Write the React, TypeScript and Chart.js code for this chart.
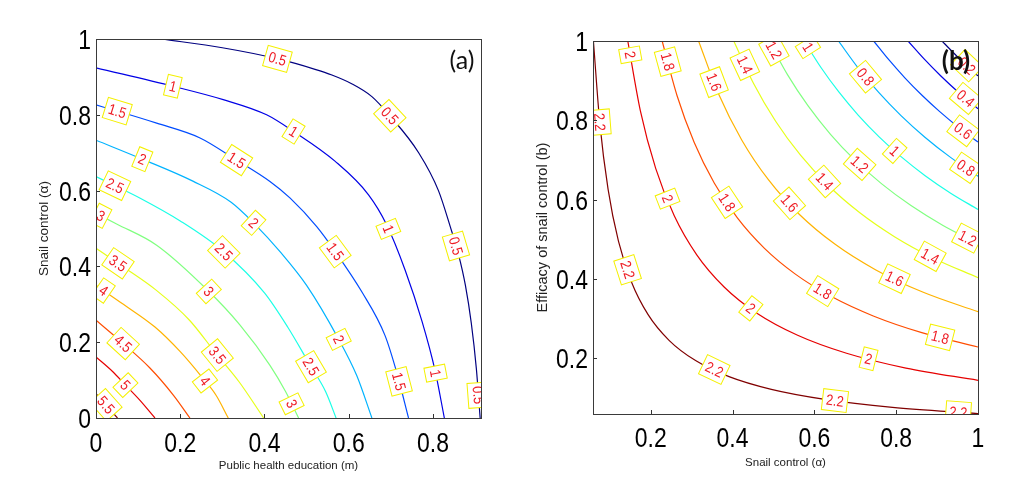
import React, { useEffect, useRef } from "react";
import { Chart, registerables } from "chart.js";

Chart.register(...registerables);

// ---------------- Panel (a): Public health education (m) vs Snail control (alpha) ----------------
const levelsA = [0.5, 1, 1.5, 2, 2.5, 3, 3.5, 4, 4.5, 5, 5.5];

const a05X = [0.155, 0.3, 0.43, 0.52, 0.56, 0.607, 0.655, 0.698, 0.766, 0.813, 0.841, 0.861, 0.877, 0.891, 0.903, 0.912];
const a05Y = [1.0, 0.977, 0.948, 0.92, 0.905, 0.882, 0.848, 0.797, 0.7, 0.6, 0.505, 0.43, 0.35, 0.25, 0.13, 0];
const a10X = [0, 0.184, 0.302, 0.405, 0.469, 0.568, 0.647, 0.69, 0.734, 0.774, 0.805, 0.827];
const a10Y = [0.924, 0.875, 0.84, 0.8, 0.756, 0.677, 0.589, 0.51, 0.39, 0.255, 0.125, 0];
const a15X = [0, 0.05, 0.144, 0.247, 0.33, 0.413, 0.461, 0.524, 0.568, 0.631, 0.686, 0.714, 0.742];
const a15Y = [0.826, 0.81, 0.778, 0.739, 0.683, 0.624, 0.58, 0.505, 0.439, 0.333, 0.218, 0.12, 0];
const a20X = [0, 0.11, 0.23, 0.32, 0.374, 0.44, 0.5, 0.575, 0.619, 0.655];
const a20Y = [0.733, 0.683, 0.625, 0.57, 0.515, 0.435, 0.35, 0.21, 0.112, 0];
const a25X = [0, 0.045, 0.105, 0.2, 0.302, 0.4, 0.455, 0.508, 0.545, 0.57];
const a25Y = [0.637, 0.613, 0.58, 0.52, 0.44, 0.33, 0.24, 0.14, 0.07, 0];
const a30X = [0, 0.049, 0.144, 0.267, 0.342, 0.413, 0.45, 0.481];
const a30Y = [0.54, 0.512, 0.456, 0.335, 0.245, 0.139, 0.07, 0];
const a35X = [0, 0.063, 0.142, 0.222, 0.285, 0.34, 0.398];
const a35Y = [0.448, 0.4, 0.338, 0.258, 0.17, 0.095, 0];
const a40X = [0, 0.065, 0.14, 0.2, 0.25, 0.285, 0.314];
const a40Y = [0.35, 0.3, 0.24, 0.175, 0.11, 0.06, 0];
const a45X = [0, 0.061, 0.128, 0.184, 0.223];
const a45Y = [0.258, 0.2, 0.132, 0.06, 0];
const a50X = [0, 0.04, 0.069, 0.105, 0.14];
const a50Y = [0.161, 0.122, 0.088, 0.046, 0];
const a55X = [0, 0.025, 0.051];
const a55Y = [0.064, 0.033, 0];

const labelLevelA = [0.5, 0.5, 0.5, 0.5, 1, 1, 1, 1, 1.5, 1.5, 1.5, 1.5, 2, 2, 2, 2.5, 2.5, 2.5, 3, 3, 3, 3.5, 3.5, 4, 4, 4.5, 5, 5.5];
const labelXA = [0.43, 0.698, 0.858, 0.905, 0.183, 0.469, 0.69, 0.805, 0.05, 0.334, 0.568, 0.714, 0.11, 0.374, 0.572, 0.045, 0.305, 0.508, 0.012, 0.263, 0.469, 0.049, 0.287, 0.017, 0.25, 0.065, 0.069, 0.024];
const labelYA = [0.945, 0.798, 0.455, 0.06, 0.878, 0.756, 0.497, 0.118, 0.808, 0.681, 0.439, 0.095, 0.683, 0.515, 0.205, 0.613, 0.44, 0.134, 0.535, 0.329, 0.04, 0.403, 0.165, 0.335, 0.09, 0.197, 0.086, 0.035];

// ---------------- Panel (b): Snail control (alpha) vs Efficacy of snail control (b) ----------------
const levelsB = [0.2, 0.4, 0.6, 0.8, 1, 1.2, 1.4, 1.6, 1.8, 2, 2.2];

const b02X = [0.912, 0.9333, 0.955, 0.9772, 1];
const b02Y = [1, 0.9772, 0.955, 0.9333, 0.912];
const b04X = [0.829, 0.8688, 0.9105, 0.9542, 1];
const b04Y = [1, 0.9542, 0.9105, 0.8688, 0.829];
const b06X = [0.745, 0.7825, 0.8218, 0.8631, 0.9065, 0.9521, 1];
const b06Y = [1, 0.9521, 0.9065, 0.8631, 0.8218, 0.7825, 0.745];
const b08X = [0.659, 0.7064, 0.7573, 0.8118, 0.8702, 0.9329, 1];
const b08Y = [1, 0.9329, 0.8702, 0.8118, 0.7573, 0.7064, 0.659];
const b10X = [0.575, 0.6162, 0.6603, 0.7076, 0.7583, 0.8126, 0.8708, 0.9332, 1];
const b10Y = [1, 0.9332, 0.8708, 0.8126, 0.7583, 0.7076, 0.6603, 0.6162, 0.575];
const b12X = [0.489, 0.5347, 0.5848, 0.6395, 0.6993, 0.7647, 0.8362, 0.9145, 1];
const b12Y = [1, 0.9145, 0.8362, 0.7647, 0.6993, 0.6395, 0.5848, 0.5347, 0.489];
const b14X = [0.403, 0.4515, 0.5058, 0.5667, 0.6348, 0.7112, 0.7968, 0.8926, 1];
const b14Y = [1, 0.8926, 0.7968, 0.7112, 0.6348, 0.5667, 0.5058, 0.4515, 0.403];
const b16X = [0.317, 0.366, 0.4225, 0.4877, 0.563, 0.65, 0.7504, 0.8662, 1];
const b16Y = [1, 0.8662, 0.7504, 0.65, 0.563, 0.4877, 0.4225, 0.366, 0.317];
const b18X = [0.228, 0.2643, 0.3064, 0.3553, 0.4119, 0.4775, 0.5536, 0.6418, 0.744, 0.8626, 1];
const b18Y = [1, 0.8626, 0.744, 0.6418, 0.5536, 0.4775, 0.4119, 0.3553, 0.3064, 0.2643, 0.228];
const b20X = [0.144, 0.1748, 0.2122, 0.2576, 0.3126, 0.3795, 0.4606, 0.5591, 0.6787, 0.8238, 1];
const b20Y = [1, 0.8238, 0.6787, 0.5591, 0.4606, 0.3795, 0.3126, 0.2576, 0.2122, 0.1748, 0.144];
const b22X = [0.06, 0.0758, 0.0959, 0.1212, 0.1533, 0.1937, 0.2449, 0.3097, 0.3915, 0.4949, 0.6257, 0.791, 1];
const b22Y = [1, 0.791, 0.6257, 0.4949, 0.3915, 0.3097, 0.2449, 0.1937, 0.1533, 0.1212, 0.0959, 0.0758, 0.06];

const labelLevelB = [2, 1.8, 2.2, 1.6, 1.4, 1.2, 1, 0.8, 0.2, 0.4, 0.6, 0.8, 1, 1.2, 1.4, 1.6, 1.8, 2, 1.2, 2.2, 2, 1.8, 1.6, 1.4, 1.8, 2, 2.2, 2.2, 2.2];
const labelXB = [0.144, 0.238, 0.071, 0.344, 0.426, 0.499, 0.577, 0.724, 0.973, 0.969, 0.961, 0.965, 0.793, 0.704, 0.622, 0.532, 0.385, 0.238, 0.973, 0.132, 0.442, 0.618, 0.793, 0.879, 0.907, 0.732, 0.353, 0.65, 0.952];
const labelYB = [0.964, 0.947, 0.795, 0.892, 0.938, 0.976, 0.98, 0.909, 0.938, 0.854, 0.77, 0.672, 0.719, 0.681, 0.643, 0.584, 0.592, 0.601, 0.5, 0.419, 0.322, 0.365, 0.394, 0.449, 0.251, 0.196, 0.166, 0.09, 0.065];

// jet colour map, one colour per contour level (low -> high)
const jetColors = ["#000080", "#0000e6", "#004cff", "#00b3ff", "#1affe6", "#80ff80", "#e6ff1a", "#ffb300", "#ff4d00", "#e60000", "#800000"];

const SANS = '"Liberation Sans", Arial, sans-serif';
const NARROW_SCALE = 0.82;

type PanelSpec = {
  levels: number[];
  xs: number[][];
  ys: number[][];
  labelLevels: number[];
  labelXs: number[];
  labelYs: number[];
  xMin: number;
  xMax: number;
  yMin: number;
  yMax: number;
  xTitle: string;
  yTitle: string;
  yTitleSize: number;
  yTitlePad: number;
  xTitlePad: number;
  tag: string;
  tagFont: string;
  tagX: number;
  tagY: number;
  pad: { top: number; right: number };
  yWidth: number;
  xHeight: number;
  xTickBaseline: number;
};

function fmt(v: number) {
  return String(Number(v.toFixed(3)));
}

function narrowText(ctx: any, text: string, x: number, y: number, align: string) {
  ctx.save();
  ctx.translate(x, y);
  ctx.scale(NARROW_SCALE, 1);
  ctx.textAlign = align;
  ctx.fillText(text, 0, 0);
  ctx.restore();
}

function decorPlugin(spec: PanelSpec) {
  return {
    id: "contourDecor",
    afterDatasetsDraw(chart: any) {
      const { ctx, chartArea: ca, scales } = chart;
      const xs = scales.x;
      const ys = scales.y;
      // contour labels
      ctx.save();
      ctx.beginPath();
      ctx.rect(ca.left, ca.top, ca.right - ca.left, ca.bottom - ca.top);
      ctx.clip();
      ctx.font = `15px ${SANS}`;
      for (let i = 0; i < spec.labelLevels.length; i++) {
        const lvl = spec.labelLevels[i];
        const ds = chart.data.datasets.find((d: any) => d.label === String(lvl));
        if (!ds) continue;
        const pts = ds.data.map((p: any) => [xs.getPixelForValue(p.x), ys.getPixelForValue(p.y)]);
        const lx = xs.getPixelForValue(spec.labelXs[i]);
        const ly = ys.getPixelForValue(spec.labelYs[i]);
        let best = { d: Infinity, px: lx, py: ly, ang: 0 };
        for (let k = 0; k < pts.length - 1; k++) {
          const [x1, y1] = pts[k];
          const [x2, y2] = pts[k + 1];
          const dx = x2 - x1;
          const dy = y2 - y1;
          const l2 = dx * dx + dy * dy;
          let t = l2 ? ((lx - x1) * dx + (ly - y1) * dy) / l2 : 0;
          t = Math.max(0, Math.min(1, t));
          const px = x1 + t * dx;
          const py = y1 + t * dy;
          const d = (px - lx) ** 2 + (py - ly) ** 2;
          if (d < best.d) best = { d, px, py, ang: Math.atan2(dy, dx) };
        }
        let ang = best.ang;
        if (ang > Math.PI / 2) ang -= Math.PI;
        if (ang < -Math.PI / 2) ang += Math.PI;
        const text = String(lvl);
        const tw = ctx.measureText(text).width * 0.86;
        const bw = tw + 7;
        const bh = 21;
        ctx.save();
        ctx.translate(best.px, best.py);
        ctx.rotate(ang);
        ctx.fillStyle = "#ffffff";
        ctx.fillRect(-bw / 2, -bh / 2, bw, bh);
        ctx.strokeStyle = "#f4f000";
        ctx.lineWidth = 1;
        ctx.strokeRect(-bw / 2, -bh / 2, bw, bh);
        ctx.fillStyle = "#ee1c24";
        ctx.textBaseline = "middle";
        ctx.scale(0.86, 1);
        ctx.textAlign = "center";
        ctx.fillText(text, 0, 1);
        ctx.restore();
      }
      ctx.restore();

      // inward tick marks and frame
      ctx.save();
      ctx.strokeStyle = "#333";
      ctx.lineWidth = 1;
      ctx.beginPath();
      xs.ticks.forEach((t: any) => {
        const px = Math.round(xs.getPixelForValue(t.value)) + 0.5;
        ctx.moveTo(px, ca.bottom);
        ctx.lineTo(px, ca.bottom - 4);
      });
      ys.ticks.forEach((t: any) => {
        const py = Math.round(ys.getPixelForValue(t.value)) + 0.5;
        ctx.moveTo(ca.left, py);
        ctx.lineTo(ca.left + 4, py);
      });
      ctx.stroke();
      ctx.strokeStyle = "#3a3a3a";
      ctx.strokeRect(Math.round(ca.left) + 0.5, Math.round(ca.top) + 0.5, Math.round(ca.right - ca.left), Math.round(ca.bottom - ca.top));

      // tick labels (narrow lettering, from the scales' own ticks)
      ctx.fillStyle = "#000";
      ctx.font = `28px ${SANS}`;
      ctx.textBaseline = "alphabetic";
      xs.ticks.forEach((t: any) => {
        narrowText(ctx, fmt(t.value), xs.getPixelForValue(t.value), spec.xTickBaseline, "center");
      });
      ys.ticks.forEach((t: any) => {
        narrowText(ctx, fmt(t.value), ca.left - 5, ys.getPixelForValue(t.value) + 10, "right");
      });

      // panel tag
      ctx.fillStyle = "#111";
      ctx.font = spec.tagFont;
      ctx.textAlign = "center";
      ctx.textBaseline = "middle";
      ctx.fillText(spec.tag, spec.tagX, spec.tagY);
      ctx.restore();
    },
  };
}

function buildConfig(spec: PanelSpec): any {
  const datasets = spec.levels.map((lvl, i) => ({
    label: String(lvl),
    data: spec.xs[i].map((v, j) => ({ x: v, y: spec.ys[i][j] })),
    borderColor: jetColors[i],
    borderWidth: 1.2,
    pointRadius: 0,
    fill: false,
    cubicInterpolationMode: "monotone",
  }));
  return {
    type: "line",
    data: { datasets },
    options: {
      animation: false,
      responsive: false,
      events: [],
      layout: { padding: { left: 0, top: spec.pad.top, right: spec.pad.right, bottom: 0 } },
      plugins: { legend: { display: false }, tooltip: { enabled: false } },
      scales: {
        x: {
          type: "linear",
          min: spec.xMin,
          max: spec.xMax,
          afterFit: (s: any) => {
            s.height = spec.xHeight;
          },
          grid: { display: false, drawTicks: false },
          border: { display: false },
          ticks: { display: false, stepSize: 0.2, includeBounds: false, autoSkip: false },
          title: {
            display: true,
            text: spec.xTitle,
            color: "#222",
            font: { family: SANS, size: 11.5 },
            padding: { top: 0, bottom: spec.xTitlePad },
          },
        },
        y: {
          type: "linear",
          min: spec.yMin,
          max: spec.yMax,
          afterFit: (s: any) => {
            s.width = spec.yWidth;
          },
          grid: { display: false, drawTicks: false },
          border: { display: false },
          ticks: { display: false, stepSize: 0.2, includeBounds: false, autoSkip: false },
          title: {
            display: true,
            text: spec.yTitle,
            color: "#222",
            font: { family: SANS, size: spec.yTitleSize },
            padding: { top: spec.yTitlePad, bottom: 0 },
          },
        },
      },
    },
    plugins: [decorPlugin(spec)],
  };
}

const specA: PanelSpec = {
  levels: levelsA,
  xs: [a05X, a10X, a15X, a20X, a25X, a30X, a35X, a40X, a45X, a50X, a55X],
  ys: [a05Y, a10Y, a15Y, a20Y, a25Y, a30Y, a35Y, a40Y, a45Y, a50Y, a55Y],
  labelLevels: labelLevelA,
  labelXs: labelXA,
  labelYs: labelYA,
  xMin: 0,
  xMax: 0.914,
  yMin: 0,
  yMax: 1,
  xTitle: "Public health education (m)",
  yTitle: "Snail control (α)",
  yTitleSize: 13.5,
  yTitlePad: 35.9,
  xTitlePad: 19,
  tag: "(a)",
  tagFont: `25px Lato, ${SANS}`,
  tagX: 462,
  tagY: 61,
  pad: { top: 39, right: 19 },
  yWidth: 96,
  xHeight: 74,
  xTickBaseline: 452,
};

const specB: PanelSpec = {
  levels: levelsB,
  xs: [b02X, b04X, b06X, b08X, b10X, b12X, b14X, b16X, b18X, b20X, b22X],
  ys: [b02Y, b04Y, b06Y, b08Y, b10Y, b12Y, b14Y, b16Y, b18Y, b20Y, b22Y],
  labelLevels: labelLevelB,
  labelXs: labelXB,
  labelYs: labelYB,
  xMin: 0.059,
  xMax: 1,
  yMin: 0.059,
  yMax: 1,
  xTitle: "Snail control (α)",
  yTitle: "Efficacy of snail control (b)",
  yTitleSize: 14.5,
  yTitlePad: 34.3,
  xTitlePad: 22,
  tag: "(b)",
  tagFont: `bold 26px Lato, ${SANS}`,
  tagX: 456,
  tagY: 62,
  pad: { top: 41, right: 32 },
  yWidth: 93,
  xHeight: 78,
  xTickBaseline: 447,
};

export default function App() {
  const refA = useRef<HTMLCanvasElement>(null);
  const refB = useRef<HTMLCanvasElement>(null);
  useEffect(() => {
    const chartA = new Chart(refA.current as HTMLCanvasElement, buildConfig(specA));
    const chartB = new Chart(refB.current as HTMLCanvasElement, buildConfig(specB));
    return () => {
      chartA.destroy();
      chartB.destroy();
    };
  }, []);
  return (
    <div style={{ position: "absolute", left: 0, top: 0, width: 1010, height: 492, background: "#fff" }}>
      <canvas ref={refA} width={500} height={492} style={{ position: "absolute", left: 0, top: 0, width: 500, height: 492 }} />
      <canvas ref={refB} width={510} height={492} style={{ position: "absolute", left: 500, top: 0, width: 510, height: 492 }} />
    </div>
  );
}
